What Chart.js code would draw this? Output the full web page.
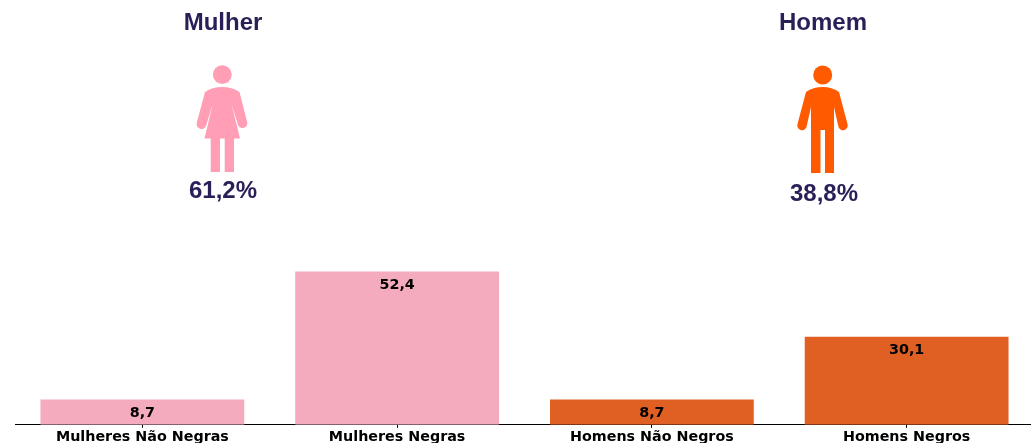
<!DOCTYPE html>
<html lang="pt">
<head>
<meta charset="utf-8">
<title>Mulher e Homem</title>
<script src="https://cdn.jsdelivr.net/npm/chart.js@4"></script>
<style>
    html, body { margin: 0; padding: 0; background: #fff; overflow: hidden; }
    #wrap { position: relative; width: 1031px; height: 443px; overflow: hidden; }
    #chart-box { position: absolute; left: 0; top: 0; width: 1034px; height: 447px; }
    .head {
        position: absolute; width: 200px; text-align: center; color: #2b1f58;
        font-family: "Liberation Sans", Arial, sans-serif; font-weight: bold; line-height: 28px;
    }
    svg.icon { position: absolute; left: 0; top: 0; }
</style>
</head>
<body>
<div id="wrap">
    <div id="chart-box"><canvas id="barChart"></canvas></div>

    <svg class="icon" width="1031" height="220">
        <!-- mulher -->
        <g fill="#ff9eb5" stroke="none">
            <circle cx="222.3" cy="74.7" r="9.4"/>
            <path d="M205 92 Q212 87 222 87 Q232 87 239.5 92 L247.3 122.5 A4.9 4.9 0 0 1 238.2 125.5 L231.5 104 L240 138.5 L234 138.5 L234 172 L224.7 172 L224.7 138.5 L220 138.5 L220 172 L210.7 172 L210.7 138.5 L204.5 138.5 L212.7 104 L206.2 125.5 A4.9 4.9 0 0 1 196.8 122.5 Z"/>
        </g>
        <!-- homem -->
        <g fill="#ff5a00" stroke="none">
            <circle cx="822.7" cy="75" r="9.5"/>
            <path d="M806 92 Q813 87 822.7 87 Q832 87 839 92 L847.5 124 A4.7 4.7 0 0 1 838.5 127 L834 107 L834 173 L825 173 L825 130 L820.5 130 L820.5 173 L811 173 L811 107 L806.5 127 A4.7 4.7 0 0 1 797.5 124 Z"/>
        </g>
    </svg>

    <div class="head" id="title-f" style="left:123px; top:8px; font-size:24px;"></div>
    <div class="head" id="title-m" style="left:723px; top:8px; font-size:24px;"></div>
    <div class="head" id="pct-f" style="left:123px; top:176px; font-size:24px;"></div>
    <div class="head" id="pct-m" style="left:724px; top:179px; font-size:24px;"></div>
</div>

<script>
const categories = ['Mulheres Não Negras', 'Mulheres Negras', 'Homens Não Negros', 'Homens Negros'];
const values = [8.7, 52.4, 8.7, 30.1];
const barColors = ['#f3abbd', '#f3abbd', '#e06023', '#e06023'];
const groupNames = ['Mulher', 'Homem'];
const groupPercents = ['61,2%', '38,8%'];

document.getElementById('title-f').textContent = groupNames[0];
document.getElementById('title-m').textContent = groupNames[1];
document.getElementById('pct-f').textContent = groupPercents[0];
document.getElementById('pct-m').textContent = groupPercents[1];

// valor dentro da barra, logo abaixo do topo
const barLabels = {
    id: 'barLabels',
    afterDatasetsDraw(chart) {
        const ctx = chart.ctx;
        const meta = chart.getDatasetMeta(0);
        ctx.save();
        ctx.font = 'bold 14.3px "DejaVu Sans"';
        ctx.fillStyle = '#000';
        ctx.textAlign = 'center';
        ctx.textBaseline = 'middle';
        meta.data.forEach((bar, i) => {
            ctx.fillText(values[i].toFixed(1).replace('.', ','), bar.x, bar.y + 13.5);
        });
        ctx.restore();
    }
};

new Chart(document.getElementById('barChart').getContext('2d'), {
    type: 'bar',
    data: {
        labels: categories,
        datasets: [{
            data: values,
            backgroundColor: barColors,
            borderWidth: 0,
            categoryPercentage: 1,
            barPercentage: 0.8
        }]
    },
    options: {
        responsive: true,
        maintainAspectRatio: false,
        animation: false,
        layout: { padding: { left: 15, right: 0, top: 0, bottom: 0 } },
        plugins: { legend: { display: false }, tooltip: { enabled: false } },
        scales: {
            x: {
                grid: { offset: false, drawOnChartArea: false, tickLength: 3, tickColor: '#000', tickWidth: 1 },
                border: { color: '#000', width: 1 },
                ticks: {
                    color: '#000',
                    padding: 1,
                    maxRotation: 0,
                    autoSkip: false,
                    font: { family: '"DejaVu Sans"', weight: 'bold', size: 14.3 }
                }
            },
            y: { display: false, min: 0, max: 145.2 }
        }
    },
    plugins: [barLabels]
});
</script>
</body>
</html>
